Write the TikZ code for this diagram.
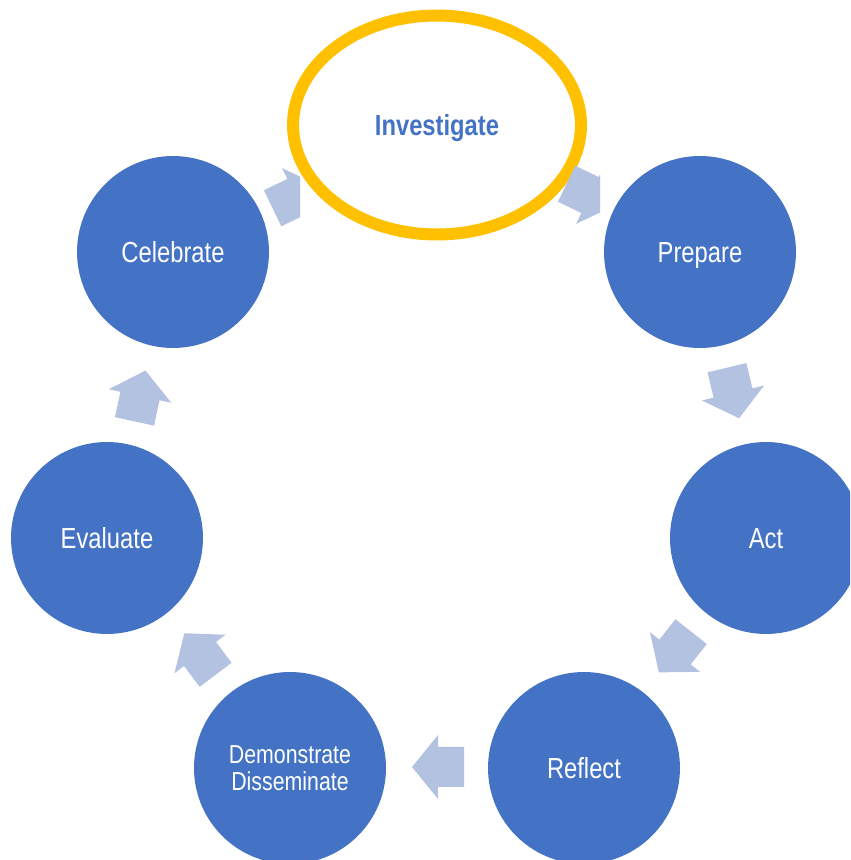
\documentclass[tikz,border=0pt]{standalone}
\usepackage{fontspec}
\setmainfont{Liberation Sans}[FakeStretch=0.82]
\usetikzlibrary{shapes.geometric}
\definecolor{stageblue}{HTML}{4472C4}
\definecolor{flowblue}{HTML}{B4C2E2}
\definecolor{ringgold}{HTML}{FFC000}
\tikzset{
  stage/.style={circle,fill=stageblue,minimum size=3.84cm,inner sep=0pt,
    text=white,align=center,text height=12pt,text depth=0pt,font=\fontsize{16.5}{19}\selectfont},
  pics/flowarrow/.style={code={
    \fill[flowblue] (-26,-20) -- (0,-20) -- (0,-32) -- (26,0) -- (0,32) -- (0,20) -- (-26,20) -- cycle;}}
}

\begin{document}
\begin{tikzpicture}[x=0.02cm,y=0.02cm]
  \clip (0,0) rectangle (850,860);
  \node[ellipse,draw=ringgold,line width=0.24cm,fill=white,minimum width=5.76cm,minimum height=4.38cm,
    text height=12pt,text depth=0pt,
    text=stageblue,font=\fontsize{16.5}{19}\selectfont\bfseries] (investigate) at (437,735) {Investigate};
  \node[stage] (prepare) at (700,608) {Prepare};
  \node[stage] (act) at (766,322) {Act};
  \node[stage] (reflect) at (584,92) {Reflect};
  \node[stage,text height=,text depth=,font=\fontsize{14.8}{15.4}\selectfont] (demonstrate) at (290,92) {Demonstrate\\Disseminate};
  \node[stage] (evaluate) at (107,322) {Evaluate};
  \node[stage] (celebrate) at (173,608) {Celebrate};

  \begin{scope}
    \clip (0,0) rectangle (600,860);
    \pic[rotate=-25.7] at (590,665) {flowarrow};
  \end{scope}
  \pic[rotate=-76.5] at (733,467) {flowarrow};
  \pic[rotate=-128.4] at (675,208) {flowarrow};
  \pic[rotate=180] at (438,93) {flowarrow};
  \pic[rotate=127] at (200,206) {flowarrow};
  \pic[rotate=77.8] at (140,464) {flowarrow};
  \begin{scope}
    \clip (0,0) rectangle (300,860);
    \pic[rotate=25.7] at (296,663) {flowarrow};
  \end{scope}
\end{tikzpicture}
\end{document}
